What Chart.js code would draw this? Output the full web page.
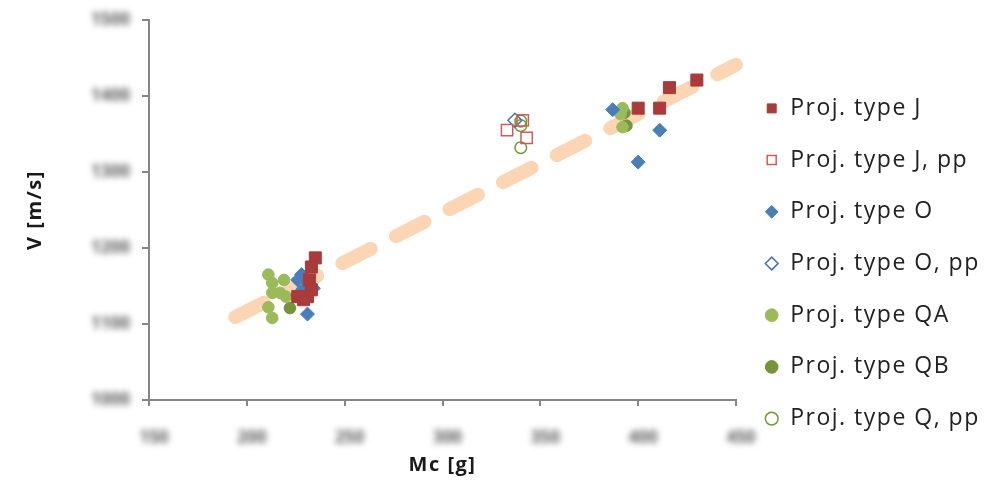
<!DOCTYPE html>
<html>
<head>
<meta charset="utf-8">
<script src="https://cdn.jsdelivr.net/npm/chart.js@4/dist/chart.umd.min.js"></script>
<style>
  body { margin: 0; background: #fff; }
  #wrap { width: 994px; height: 485px; position: relative; }
</style>
</head>
<body>
<div id="wrap"><canvas id="chart"></canvas></div>
<script>
// tick labels (blurred in the reference)
const xTicks = [150, 200, 250, 300, 350, 400, 450];
const yTicks = [1000, 1100, 1200, 1300, 1400, 1500];

// series
const jX = [235, 233, 232, 233, 231, 229, 226, 400, 411, 416, 430];
const jY = [1187, 1175, 1158, 1145, 1136, 1132, 1136, 1384, 1384, 1411, 1421];
const jppX = [333, 343, 341];
const jppY = [1355, 1345, 1368];
const oX = [228, 226, 231, 234, 229, 226, 231, 387, 411, 400];
const oY = [1165, 1158, 1154, 1147, 1145, 1138, 1113, 1382, 1355, 1313];
const oppX = [337];
const oppY = [1368];
const qaX = [211, 213, 219, 213, 217, 220, 211, 213, 392, 391, 392];
const qaY = [1165, 1154, 1158, 1141, 1141, 1136, 1122, 1108, 1384, 1376, 1359];
const qbX = [222, 228, 393, 394];
const qbY = [1121, 1143, 1378, 1361];
const qppX = [340, 340, 340];
const qppY = [1367, 1361, 1332];
const trendX = [194, 450];
const trendY = [1109, 1441];

const pts = (xs, ys) => xs.map((x, i) => ({ x: x, y: ys[i] }));

// wider text spacing, like the original rendering
const spacing = {
  id: 'spacing',
  afterInit(chart) {
    // the legend measures without the extra spacing, so give it a fixed width
    const lg = chart.legend;
    const fit = lg.fit.bind(lg);
    lg.fit = function () { fit(); this.width = 258; };
  },
  beforeLayout(chart) { chart.ctx.letterSpacing = '1.5px'; },
  beforeDraw(chart) { chart.ctx.letterSpacing = '1.5px'; }
};

// draws the blurred tick labels
const blurTicks = {
  id: 'blurTicks',
  afterDraw(chart) {
    const ctx = chart.ctx;
    const sx = chart.scales.x, sy = chart.scales.y;
    ctx.save();
    ctx.letterSpacing = '0px';
    ctx.filter = 'blur(3.2px)';
    ctx.fillStyle = '#606060';
    ctx.font = 'bold 17px "Open Sans"';
    ctx.textBaseline = 'middle';
    ctx.textAlign = 'right';
    yTicks.forEach(v => ctx.fillText(String(v), sy.right - 19, sy.getPixelForValue(v)));
    ctx.textAlign = 'center';
    xTicks.forEach(v => ctx.fillText(String(v), sx.getPixelForValue(v) + 5, sx.top + 38));
    ctx.restore();
  }
};

const axisGrey = '#868686';

new Chart(document.getElementById('chart'), {
  type: 'scatter',
  data: {
    datasets: [
      { label: 'Proj. type J', data: pts(jX, jY), pointStyle: 'rect', pointRadius: 8.5,
        backgroundColor: '#aa3b3b', borderColor: '#aa3b3b', borderWidth: 1, order: 1 },
      { label: 'Proj. type J, pp', data: pts(jppX, jppY), pointStyle: 'rect', pointRadius: 8,
        backgroundColor: 'rgba(255,255,255,0)', borderColor: '#d05c5a', borderWidth: 1.5, order: 1 },
      { label: 'Proj. type O', data: pts(oX, oY), pointStyle: 'rectRot', pointRadius: 7,
        backgroundColor: '#4a7ebb', borderColor: '#4a7ebb', borderWidth: 1, order: 1 },
      { label: 'Proj. type O, pp', data: pts(oppX, oppY), pointStyle: 'rectRot', pointRadius: 7,
        backgroundColor: 'rgba(255,255,255,0)', borderColor: '#4a6fae', borderWidth: 1.5, order: 1 },
      { label: 'Proj. type QA', data: pts(qaX, qaY), pointStyle: 'circle', pointRadius: 5.8,
        backgroundColor: '#9bbb59', borderColor: '#9bbb59', borderWidth: 1, order: 1 },
      { label: 'Proj. type QB', data: pts(qbX, qbY), pointStyle: 'circle', pointRadius: 5.8,
        backgroundColor: '#77933c', borderColor: '#77933c', borderWidth: 1, order: 1 },
      { label: 'Proj. type Q, pp', data: pts(qppX, qppY), pointStyle: 'circle', pointRadius: 5.8,
        backgroundColor: 'rgba(255,255,255,0)', borderColor: '#6f9a36', borderWidth: 1.5, order: 1 },
      { label: 'trend', type: 'line', data: pts(trendX, trendY), showLine: true, pointRadius: 0,
        borderColor: '#fcd5b5', borderWidth: 14, borderDash: [32, 28], borderCapStyle: 'round',
        fill: false, clip: false, order: 10 }
    ]
  },
  options: {
    responsive: true,
    maintainAspectRatio: false,
    animation: false,
    layout: { padding: { top: 20, left: 19, right: 0, bottom: 4 } },
    plugins: {
      tooltip: { enabled: false },
      legend: {
        position: 'right',
        labels: {
          filter: item => item.text !== 'trend',
          usePointStyle: true,
          boxWidth: 14,
          boxHeight: 9,
          padding: 28.7,
          color: '#222',
          font: { family: '"Open Sans"', size: 23 }
        },
        title: { display: true, text: ' ', padding: 1, font: { size: 20 } }
      }
    },
    scales: {
      x: {
        type: 'linear', min: 150, max: 450,
        afterFit: s => { s.height = 81; },
        ticks: { display: false, stepSize: 50 },
        grid: { drawOnChartArea: false, drawTicks: true, tickLength: 6, color: axisGrey, lineWidth: 2 },
        border: { color: axisGrey, width: 2 },
        title: { display: true, text: 'Mc [g]', color: '#1a1a1a',
                 font: { family: '"Open Sans"', size: 20, weight: 'bold' } }
      },
      y: {
        type: 'linear', min: 1000, max: 1500,
        afterFit: s => { s.width = 130; },
        ticks: { display: false, stepSize: 100 },
        grid: { drawOnChartArea: false, drawTicks: true, tickLength: 7, color: axisGrey, lineWidth: 2 },
        border: { color: axisGrey, width: 2 },
        title: { display: true, text: 'V [m/s]', color: '#1a1a1a',
                 font: { family: '"Open Sans"', size: 20, weight: 'bold' } }
      }
    }
  },
  plugins: [spacing, blurTicks]
});
</script>
</body>
</html>
